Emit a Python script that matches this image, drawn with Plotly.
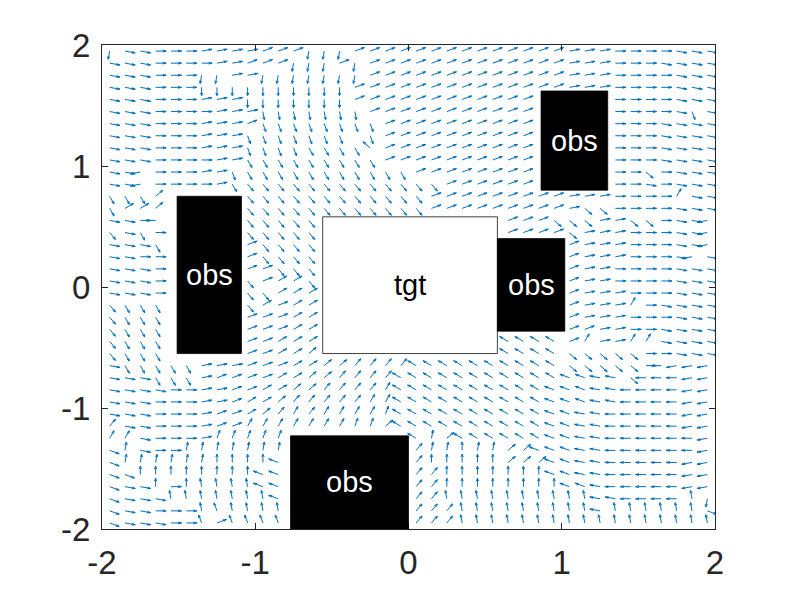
import math
import plotly.graph_objects as go

# One string per grid row (top to bottom), one character per column (left to right).
# Character index in ANGLE_CODES x 10 = on-screen arrow direction in degrees; "." = no arrow.
ANGLE_CODES = "0123456789abcdefghijklmnopqrstuvwxyz"
ROWS = [
    "qzz0001111" "222qqq2222" "2222222222" "1110000zzz",
    "zzz0000112" "22qqq2q222" "2222222222" "111000zzzz",
    "zzz000qq11" "qqqqqqq222" "2222222222" "1110000zzz",
    "zzz000rrrr" "rrrrrr2222" "2222222222" "1110000zzz",
    "zzz000111r" "rrrrrr2222" "22222222.." "...0000zzz",
    "zzz0000111" "sssssss222" "22222222.." "...0000ztz",
    "zzz0001112" "tttttttt22" "22222222.." "...000zzzz",
    "zzz000111t" "tttttt.t22" "22222222.." "...000zzzz",
    "zzz000111t" "tttuuuue22" "22222222.." "...000zzzz",
    "zzz000011u" "uuuuuuuu22" "22222222.." "...000zzzz",
    "zzj00011tu" "uuuuuuuuuu" "22222222.." "...00w0zzz",
    "zzj00001uv" "vvvvvvvvvv" "vv222222.." "...00z0zzz",
    "uuu4.....v" "vvvvvvvvvv" "v222222222" "11100006zz",
    "u334.....v" "vvvvvvvvvv" "v222222222" "1ww0000zzz",
    "zz0i.....v" "vvvv......" "......222w" "ww11ww0zzj",
    "vzu0.....v" "vvvv......" "......2222" "w111000zzj",
    "zzzu.....2" "vvvv......" ".........." "2111000zzj",
    "zz00.....2" "vvvv......" ".........." "2111000zjz",
    "zzz0.....2" "2vvv......" ".........." "2110000zzz",
    "zzz0.....v" "233v......" ".........." "2110000zzz",
    "zzz0.....v" "v333......" ".........." "2111000zzz",
    "vuuu.....v" "3233......" ".........." "211160zzzz",
    "vuuu.....2" "2233......" ".........." "2111000zzz",
    "vuuu.....2" "2233......" ".........." "221100zzzz",
    "vuuu.....2" "2333......" "......ffff" "261166zzzz",
    "vuuu.....2" "2334......" "......ffff" "wwwww00zzz",
    "zuuuuu1112" "2233445555" "ffffffffff" "wwwww0ijjj",
    "zzzuuu1222" "233445555f" "ffffffffff" "gghhwiiijj",
    "zzzz001122" "334455556f" "fffffffffg" "gghhiiiijj",
    "zzz0001123" "345555566f" "fffffffffg" "gghhiiiijj",
    "zzz0001223" "456566667f" "fffffffffg" "ghhiiiiijj",
    "5zz0001226" "666666774f" "fffffffffg" "ghhiiiiijj",
    "66z0001777" "77........" "f84ffffffg" "ghhiiiiiij",
    "y8z0088888" "88........" "58898844gg" "ghhiiiiiij",
    "y888888999" "9g........" "599999444g" "ghhiiiiijj",
    "yy99999999" "gg........" "559999999g" "ghhiiiiijj",
    "yzz909aaaa" "gg........" "5599999999" "gghiiiiijj",
    "yzzzaaaaaa" "ag........" "55aaaaaaaa" "aahhiiiiaq",
    "yzz000abaa" "aa........" "555aaaaaaa" "aahaaaaaay",
    "yzzz00b2bb" "bb........" "555aaaaaaa" "aaaaaaaaaa",
]
X_GRID = [-1.95 + 0.1 * i for i in range(40)]
Y_GRID = [1.95 - 0.1 * j for j in range(40)]
ARROW_LENGTH = 0.0685

BOX_LABELS = ["obs", "obs", "tgt", "obs", "obs"]
BOX_X0 = [-1.51, 0.865, -0.56, 0.58, -0.77]
BOX_X1 = [-1.09, 1.30, 0.58, 1.02, 0.0]
BOX_Y0 = [-0.55, 0.80, -0.55, -0.365, -2.0]
BOX_Y1 = [0.75, 1.62, 0.58, 0.40, -1.23]
BOX_FILL = ["black", "black", "white", "black", "black"]
BOX_TEXT = ["white", "white", "black", "white", "white"]

TICK_VALUES = [-2, -1, 0, 1, 2]
TICK_LABELS = ["-2", "-1", "0", "1", "2"]

AX_PX_X = 153.25
AX_PX_Y = 121.0
xs, ys = [], []
for j, row in enumerate(ROWS):
    for i, ch in enumerate(row):
        if ch == ".":
            continue
        theta = math.radians(ANGLE_CODES.index(ch) * 10)
        u, v = math.cos(theta) / AX_PX_X, math.sin(theta) / AX_PX_Y
        n = math.hypot(u, v)
        u, v = u / n * ARROW_LENGTH, v / n * ARROW_LENGTH
        x, y = X_GRID[i], Y_GRID[j]
        a, b = 0.33, 0.33
        xs += [x, x + u, None,
               x + u - a * (u + b * v), x + u, x + u - a * (u - b * v), None]
        ys += [y, y + v, None,
               y + v - a * (v - b * u), y + v, y + v - a * (v + b * u), None]

fig = go.Figure(go.Scatter(x=xs, y=ys, mode="lines", hoverinfo="skip",
                           line=dict(color="#0072BD", width=1)))

for lab, x0, x1, y0, y1, fill, tc in zip(BOX_LABELS, BOX_X0, BOX_X1, BOX_Y0, BOX_Y1, BOX_FILL, BOX_TEXT):
    fig.add_shape(type="rect", x0=x0, x1=x1, y0=y0, y1=y1, fillcolor=fill,
                  line=dict(color="black", width=0.75), layer="above")
    fig.add_annotation(x=(x0 + x1) / 2, y=(y0 + y1) / 2, text=lab, showarrow=False,
                       font=dict(family="Liberation Sans", size=29, color=tc))

axis = dict(range=[-2, 2], tickmode="array", tickvals=TICK_VALUES, ticktext=TICK_LABELS,
            ticks="inside", ticklen=6, tickwidth=1, tickcolor="#262626",
            showline=True, linecolor="#262626", linewidth=1, mirror="ticks",
            showgrid=False, zeroline=False, ticklabelstandoff=4,
            tickfont=dict(family="Liberation Sans", size=33, color="#262626"))
fig.update_layout(width=790, height=595, paper_bgcolor="white", plot_bgcolor="white",
                  showlegend=False, xaxis=axis, yaxis=axis,
                  margin=dict(l=102, r=75, t=45, b=66))
fig.write_html("out.html", config={"displayModeBar": False},
               post_script="document.body.style.margin='0';document.body.style.overflow='hidden';")
